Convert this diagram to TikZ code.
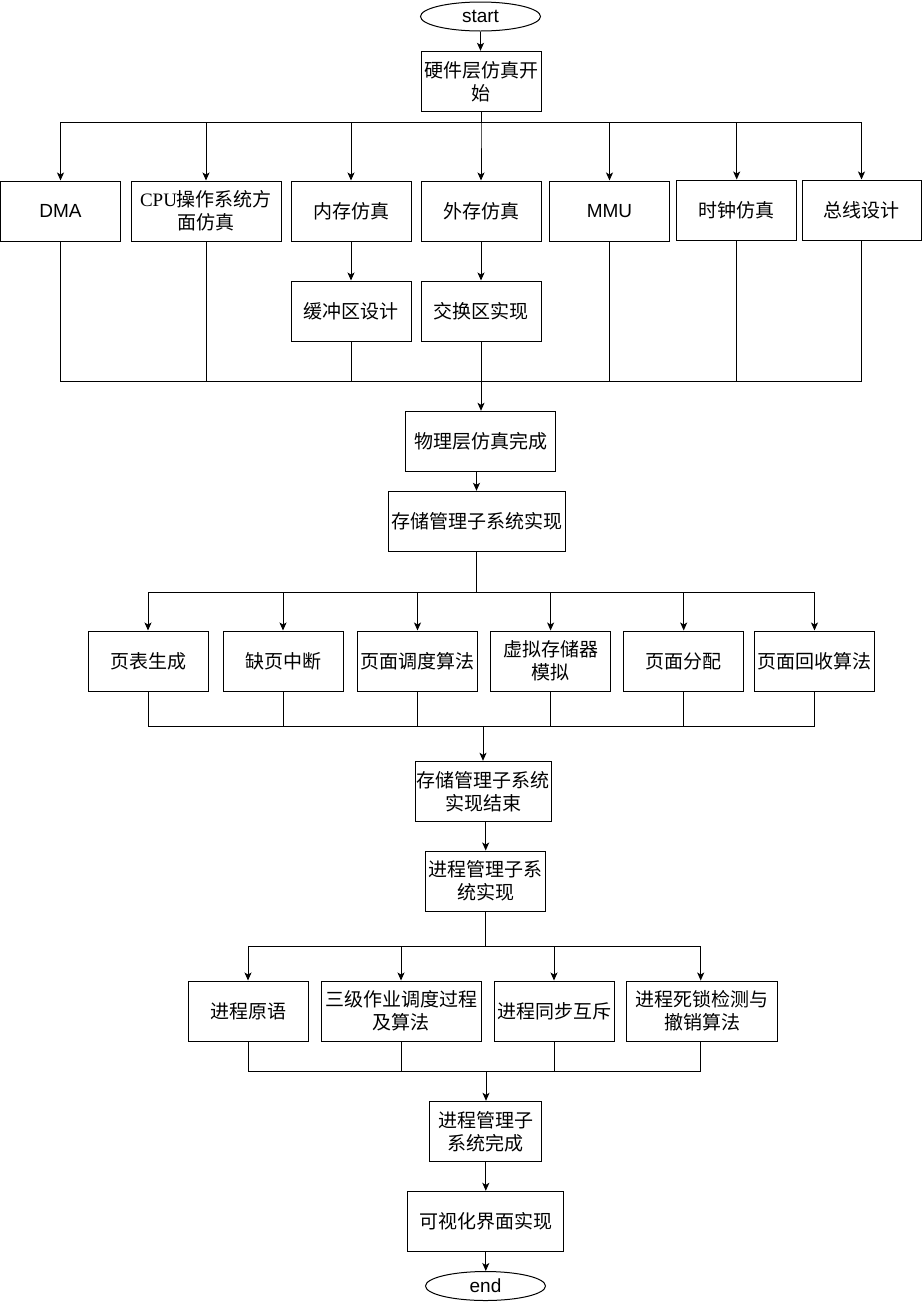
\documentclass[tikz,border=0pt]{standalone}
\usepackage{fontspec}
\setmainfont{Liberation Sans}
\newfontfamily\cjk{Noto Sans CJK SC}
\newfontfamily\serifcpu{Liberation Serif}
\usetikzlibrary{shapes.geometric,arrows.meta}

\begin{document}
\begin{tikzpicture}[x=1pt,y=-1pt,
  box/.style={draw, line width=1pt, minimum height=60pt, inner sep=0pt,
    align=center, font=\cjk\fontsize{19}{23}\selectfont},
  lat/.style={font=\fontsize{19}{23}\selectfont},
  term/.style={ellipse, draw, line width=1pt, inner sep=0pt,
    minimum width=120pt, minimum height=29pt, font=\fontsize{19}{23}\selectfont},
  arr/.style={line width=1pt, -{Stealth[length=8pt,width=7pt,inset=2pt]}},
  ln/.style={line width=1pt},
]
\useasboundingbox (0,0) rectangle (922,1302);

% start and hardware layer
\node[term] (start) at (480.5,16.5) {start};
\node[box, minimum width=120pt] (hw) at (481,81.3) {硬件层仿真开\\始};

% hardware modules
\node[box, lat, minimum width=120pt] (dma) at (60.5,211) {DMA};
\node[box, minimum width=150pt] (cpu) at (206,211) {{\serifcpu CPU}操作系统方\\面仿真};
\node[box, minimum width=120pt] (mem) at (351,211) {内存仿真};
\node[box, minimum width=120pt] (ext) at (481,211) {外存仿真};
\node[box, lat, minimum width=120pt] (mmu) at (609.5,211) {MMU};
\node[box, minimum width=120pt] (clk) at (736.7,210) {时钟仿真};
\node[box, minimum width=119pt] (bus) at (861.5,210) {总线设计};
\node[box, minimum width=120pt] (buf) at (351,311) {缓冲区设计};
\node[box, minimum width=120pt] (swap) at (481,311) {交换区实现};

\node[box, minimum width=150pt] (phys) at (480.7,441.3) {物理层仿真完成};
\node[box, minimum width=177pt] (sm) at (476.5,521.3) {存储管理子系统实现};

% storage management modules
\node[box, minimum width=120pt] (pt) at (148,661) {页表生成};
\node[box, minimum width=120pt] (pf) at (283,661) {缺页中断};
\node[box, minimum width=120pt] (ps) at (417.5,661) {页面调度算法};
\node[box, minimum width=120pt] (vm) at (550.6,661) {虚拟存储器\\模拟};
\node[box, minimum width=120pt] (pa) at (683.7,661) {页面分配};
\node[box, minimum width=120pt] (pr) at (814.5,661) {页面回收算法};

\node[box, minimum width=136pt] (smEnd) at (483,791.3) {存储管理子系统\\实现结束};
\node[box, minimum width=120pt] (pm) at (485.7,881) {进程管理子系\\统实现};

% process management modules
\node[box, minimum width=120pt] (prim) at (248,1011) {进程原语};
\node[box, minimum width=160pt] (sched) at (401,1011) {三级作业调度过程\\及算法};
\node[box, minimum width=120pt] (sync) at (554,1011) {进程同步互斥};
\node[box, minimum width=151pt] (dead) at (702,1011) {进程死锁检测与\\撤销算法};

\node[box, minimum width=112pt] (pmDone) at (485.8,1131.3) {进程管理子\\系统完成};
\node[box, minimum width=156pt] (vis) at (485.8,1221.3) {可视化界面实现};
\node[term] (end) at (485.5,1286) {end};

% connectors: start to hardware layer
\draw[arr] (start.south) -- (start.south |- hw.north);
\foreach \t in {dma,cpu,mem,ext,mmu,clk,bus}
  \draw[arr] (hw.south) -- ++(0,10.4) -| (\t.north);
\draw[arr] (mem) -- (buf);
\draw[arr] (ext) -- (swap);

% merge into physical layer done
\coordinate (m1) at (481,381);
\foreach \t in {dma,cpu,buf,mmu,clk,bus}
  \draw[ln] (\t.south) |- (m1);
\draw[arr] (swap.south) -- (swap.south |- phys.north);
\draw[arr] (phys.south -| sm.north) -- (sm.north);

% storage management branch
\foreach \t in {pt,pf,ps,vm,pa,pr}
  \draw[arr] (sm.south) -- ++(0,40.7) -| (\t.north);
\coordinate (m2) at (483,726);
\foreach \t in {pt,pf,ps,vm,pa,pr}
  \draw[ln] (\t.south) |- (m2);
\draw[arr] (m2) -- (smEnd.north);
\draw[arr] (pm.north |- smEnd.south) -- (pm.north);

% process management branch
\draw[arr] (pm.south) -- ++(0,34.7) -| (prim.north);
\draw[arr] (pm.south) -- ++(0,34.7) -| (sched.north);
\draw[arr] (pm.south) -- ++(0,34.7) -| (sync.north);
\draw[arr] (pm.south) -- ++(0,34.7) -| ([xshift=-1.3pt]dead.north);
\coordinate (m3) at (486,1071);
\foreach \t in {prim,sched,sync}
  \draw[ln] (\t.south) |- (m3);
\draw[ln] ([xshift=-1.3pt]dead.south) |- (m3);
\draw[arr] (m3) -- (m3 |- pmDone.north);
\draw[arr] (pmDone) -- (vis);
\draw[arr] (vis.south) -- (vis.south |- end.north);
\end{tikzpicture}
\end{document}
